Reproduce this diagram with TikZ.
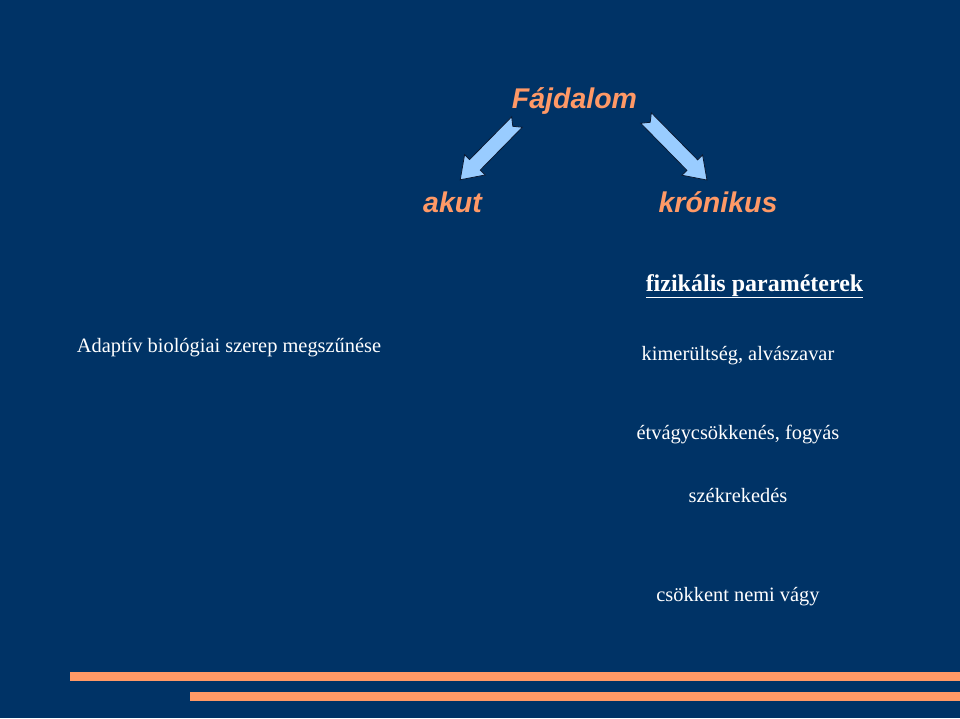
\documentclass[tikz,border=0pt]{standalone}
\usepackage{fontspec}
\setmainfont{Liberation Serif}
\newfontfamily\arialfont{Liberation Sans}
\definecolor{bgblue}{HTML}{003366}
\definecolor{peach}{HTML}{FF9966}
\definecolor{skyarrow}{HTML}{99CCFF}
\definecolor{arrowedge}{HTML}{0A1A33}
\begin{document}
\begin{tikzpicture}[x=1pt,y=-1pt,
  titletext/.style={text=peach,font=\arialfont\bfseries\itshape\fontsize{28.5}{32}\selectfont,inner sep=0pt,anchor=base},
  bodytext/.style={text=white,font=\fontsize{20.4}{24}\selectfont,inner sep=0pt,anchor=base},
  headtext/.style={text=white,font=\bfseries\fontsize{24}{28}\selectfont,inner sep=0pt,anchor=base},
  bararea/.style={fill=peach,draw=none},
  blockarrow/.style={fill=skyarrow,draw=arrowedge,line width=0.8pt,line join=miter}]
\fill[bgblue] (0,0) rectangle (960,718);
\useasboundingbox (0,0) rectangle (960,718);

% titles
\node[titletext] (pain) at (574.5,108) {Fájdalom};
\node[titletext] (acute) at (452.5,212) {akut};
\node[titletext] (chronic) at (718,212) {krónikus};

% block arrows (notched)
\coordinate (lt) at (517,122);
\coordinate (rt) at (646,118);
\begin{scope}[shift={(lt)},rotate=-134.5]
  \draw[blockarrow] (6,0) -- (0,7.5) -- (60,7.5) -- (60,14.5) -- (81,0) -- (60,-14.5) -- (60,-7.5) -- (0,-7.5) -- cycle;
\end{scope}
\begin{scope}[shift={(rt)},rotate=-45.5]
  \draw[blockarrow] (6,0) -- (0,7.5) -- (66,7.5) -- (66,14.5) -- (87,0) -- (66,-14.5) -- (66,-7.5) -- (0,-7.5) -- cycle;
\end{scope}

% texts
\node[headtext] (phys) at (754.5,291) {\underline{fizikális paraméterek}};
\node[bodytext] (adapt) at (229,352) {Adaptív biológiai szerep megszűnése};
\node[bodytext] (fatigue) at (738,360) {kimerültség, alvászavar};
\node[bodytext] (appetite) at (738,439) {étvágycsökkenés, fogyás};
\node[bodytext] (constip) at (738,502) {székrekedés};
\node[bodytext] (libido) at (738,601) {csökkent nemi vágy};

% bottom bars
\fill[bararea] (70,672) rectangle (960,681);
\fill[bararea] (190,692) rectangle (960,701);
\end{tikzpicture}
\end{document}
